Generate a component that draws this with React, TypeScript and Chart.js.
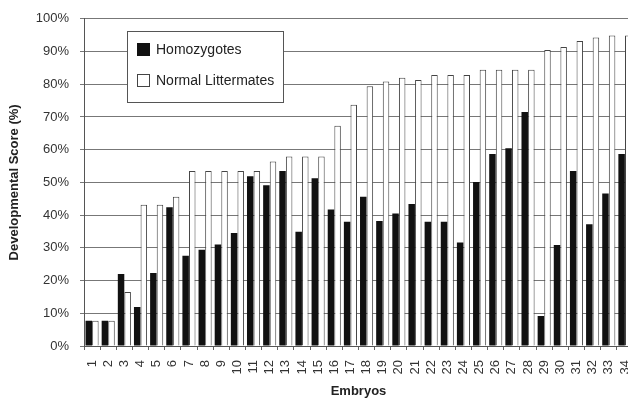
import React, { useEffect, useRef } from "react";
import { Chart, registerables } from "chart.js";

Chart.register(...registerables);

const embryos = Array.from({ length: 34 }, (_, i) => String(i + 1));
const homozygotes = [7.7, 7.7, 22.0, 11.9, 22.3, 42.4, 27.6, 29.4, 31.0, 34.5, 51.9, 49.1, 53.5, 34.9, 51.3, 41.7, 38.0, 45.6, 38.2, 40.5, 43.4, 38.0, 38.0, 31.6, 50.1, 58.7, 60.4, 71.5, 9.2, 30.9, 53.5, 37.2, 46.6, 58.7];
const normalLittermates = [7.7, 7.7, 16.5, 43.2, 43.2, 45.6, 53.5, 53.5, 53.5, 53.5, 53.5, 56.4, 57.9, 57.9, 57.9, 67.3, 73.7, 79.4, 80.8, 82.0, 81.3, 82.8, 82.8, 82.8, 84.4, 84.4, 84.4, 84.4, 90.5, 91.4, 93.2, 94.3, 94.9, 94.9];
const seriesNames = ["Homozygotes", "Normal Littermates"];

const FONT = "'Liberation Sans', Arial, sans-serif";

const boxLegend = {
  id: "boxLegend",
  afterDraw(chart: any) {
    const ctx = chart.ctx;
    const ca = chart.chartArea;
    const x = ca.left + 43;
    const y = 31;
    const w = 156;
    const h = 71;
    ctx.save();
    ctx.fillStyle = "#fff";
    ctx.fillRect(x, y, w, h);
    ctx.strokeStyle = "#555";
    ctx.lineWidth = 1;
    ctx.strokeRect(x + 0.5, y + 0.5, w, h);
    chart.data.datasets.forEach((ds: any, i: number) => {
      const sy = y + 12 + i * 31;
      ctx.fillStyle = ds.backgroundColor;
      ctx.fillRect(x + 10, sy, 13, 13);
      if (ds.borderWidth) {
        ctx.strokeStyle = ds.borderColor;
        ctx.strokeRect(x + 10.5, sy + 0.5, 12, 12);
      }
      ctx.fillStyle = "#222";
      ctx.font = `14px ${FONT}`;
      ctx.textBaseline = "middle";
      ctx.textAlign = "left";
      ctx.fillText(ds.label, x + 29, sy + 7);
    });
    ctx.restore();
  },
};

export default function App() {
  const ref = useRef<HTMLCanvasElement>(null);
  useEffect(() => {
    if (!ref.current) return;
    const chart = new Chart(ref.current, {
      type: "bar",
      data: {
        labels: embryos,
        datasets: [
          {
            label: seriesNames[0],
            data: homozygotes,
            backgroundColor: "#111",
            borderWidth: 0,
            categoryPercentage: 0.82,
            barPercentage: 0.98,
          },
          {
            label: seriesNames[1],
            data: normalLittermates,
            backgroundColor: "#fff",
            borderColor: "#444",
            borderWidth: 1,
            categoryPercentage: 0.82,
            barPercentage: 0.98,
          },
        ],
      },
      options: {
        responsive: false,
        animation: false,
        devicePixelRatio: 1,
        layout: { padding: { top: 16, right: 7, left: 0, bottom: 0 } },
        plugins: { legend: { display: false }, tooltip: { enabled: false } },
        scales: {
          x: {
            offset: true,
            grid: { offset: true, drawOnChartArea: false, tickLength: 4, color: "#666" },
            border: { color: "#555" },
            ticks: {
              minRotation: 90,
              maxRotation: 90,
              autoSkip: false,
              padding: 10,
              color: "#333",
              font: { family: FONT, size: 13 },
            },
            title: {
              display: true,
              text: "Embryos",
              color: "#222",
              font: { family: FONT, size: 13, weight: "bold" },
              padding: { top: 0, bottom: 0 },
            },
            afterFit(scale: any) {
              scale.height = 53;
              scale.paddingLeft = 0;
              scale.paddingRight = 0;
            },
          },
          y: {
            min: 0,
            max: 100,
            ticks: {
              stepSize: 10,
              callback: (v: any) => v + "%",
              padding: 11,
              color: "#333",
              font: { family: FONT, size: 13 },
            },
            grid: { color: "#777", tickLength: 4 },
            border: { color: "#555" },
            title: {
              display: true,
              text: "Developmental Score (%)",
              color: "#222",
              font: { family: FONT, size: 13, weight: "bold" },
              padding: { top: 7, bottom: 0 },
            },
            afterFit(scale: any) {
              scale.width = 84;
            },
          },
        },
      },
      plugins: [boxLegend],
    });
    return () => chart.destroy();
  }, []);
  return (
    <div style={{ position: "fixed", left: 0, top: 0, width: 628, height: 399, overflow: "hidden", background: "#fff" }}>
      <canvas ref={ref} width={640} height={399} style={{ width: 640, height: 399, display: "block" }} />
    </div>
  );
}
